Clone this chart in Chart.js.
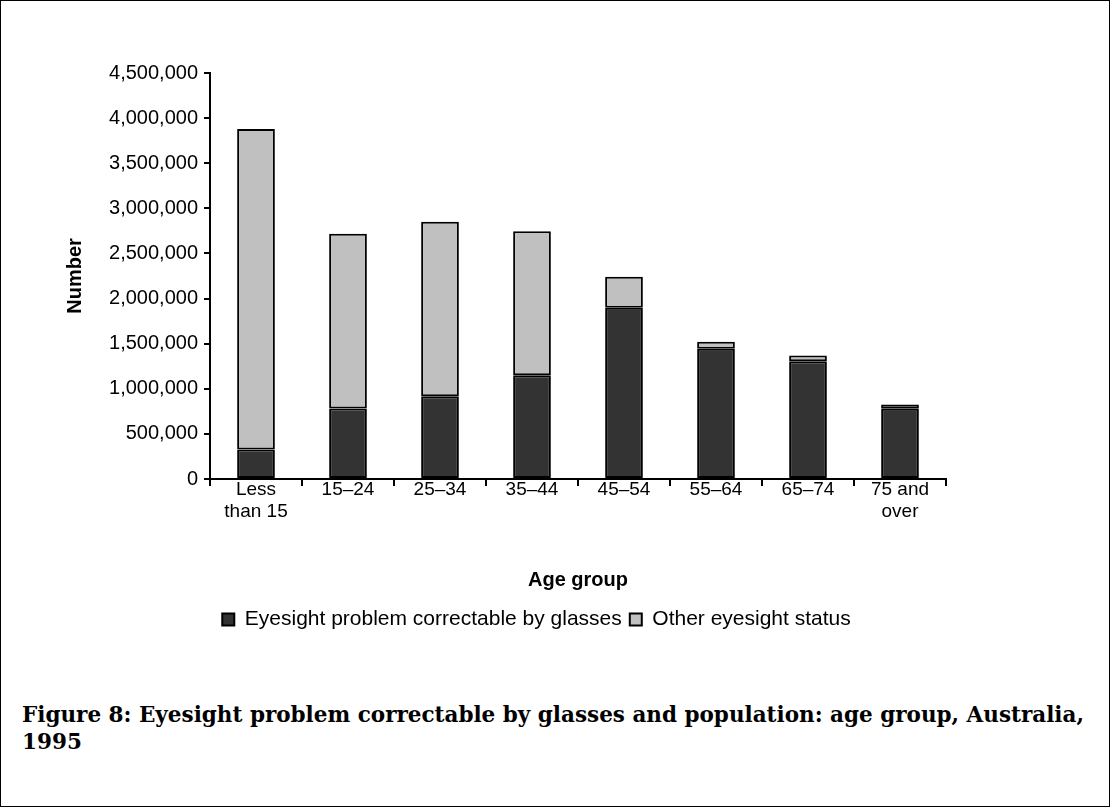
<!DOCTYPE html>
<html>
<head>
<meta charset="utf-8">
<script src="https://cdn.jsdelivr.net/npm/chart.js@4.4.1/dist/chart.umd.min.js"></script>
<style>
  html, body { margin: 0; padding: 0; background: #fff; }
  #page { position: relative; width: 1110px; height: 807px; overflow: hidden; }
  #frame { position: absolute; left: 0; top: 0; width: 1110px; height: 807px; box-sizing: border-box; border: 1px solid #000; pointer-events: none; }
  #chart { position: absolute; left: 0; top: 0; }
  #caption {
    position: absolute; left: 22px; top: 701px; width: 1080px;
    font-family: "DejaVu Serif", "Liberation Serif", serif; font-weight: bold;
    font-size: 21.5px; line-height: 27px; color: #000; white-space: nowrap;
  }
</style>
</head>
<body>
<div id="page">
  <canvas id="chart" width="1110" height="660"></canvas>
  <div id="caption">Figure 8: Eyesight problem correctable by glasses and population: age group, Australia,<br>1995</div>
  <div id="frame"></div>
</div>
<script>
// Age groups (multi-line labels where the source wraps them)
const ageGroups = [['Less', 'than 15'], '15–24', '25–34', '35–44', '45–54', '55–64', '65–74', ['75 and', 'over']];

// Persons with an eyesight problem correctable by glasses
const correctableByGlasses = [327000, 781000, 918000, 1150000, 1898000, 1443000, 1306000, 778000];

// Remainder of the population in each age group
const otherStatus = [3552000, 1937000, 1933000, 1597000, 343000, 78000, 63000, 48000];

// Value axis
const yMin = 0;
const yMax = 4500000;
const yStep = 500000;

const seriesNames = ['Eyesight problem correctable by glasses', 'Other eyesight status'];

const FONT = '"Liberation Sans", Arial, sans-serif';

new Chart(document.getElementById('chart'), {
  type: 'bar',
  data: {
    labels: ageGroups,
    datasets: [
      {
        label: seriesNames[0],
        data: correctableByGlasses,
        backgroundColor: '#333333',
        borderColor: '#000000',
        borderWidth: 2,
        borderSkipped: false
      },
      {
        label: seriesNames[1],
        data: otherStatus,
        backgroundColor: '#c0c0c0',
        borderColor: '#000000',
        borderWidth: 2,
        borderSkipped: false
      }
    ]
  },
  options: {
    responsive: false,
    animation: false,
    devicePixelRatio: 1,
    datasets: { bar: { categoryPercentage: 1, barPercentage: 0.41 } },
    layout: { padding: { left: 63, right: 100, top: 73, bottom: 20 } },
    plugins: {
      legend: {
        position: 'bottom',
        labels: {
          color: '#000',
          font: { family: FONT, size: 21 },
          boxWidth: 12,
          boxHeight: 12,
          padding: 8
        }
      },
      tooltip: { enabled: false },
      title: { display: false }
    },
    scales: {
      x: {
        stacked: true,
        grid: { display: true, drawOnChartArea: false, drawTicks: true, tickLength: 7, color: '#000', lineWidth: 2, offset: true },
        border: { display: true, color: '#000', width: 2 },
        ticks: { color: '#000', font: { family: FONT, size: 19, lineHeight: 1.16 }, padding: -7, maxRotation: 0, autoSkip: false },
        title: { display: true, text: 'Age group', color: '#000', font: { family: FONT, size: 20, weight: 'bold' }, padding: { top: 0, bottom: 9 } },
        afterFit: (s) => { s.height = 122; }
      },
      y: {
        stacked: true,
        min: yMin,
        max: yMax,
        grid: { display: true, drawOnChartArea: false, drawTicks: true, tickLength: 6, color: '#000', lineWidth: 2 },
        border: { display: true, color: '#000', width: 2 },
        ticks: {
          stepSize: yStep,
          color: '#000',
          font: { family: FONT, size: 20 },
          padding: 6,
          callback: (v) => Number(v).toLocaleString('en-US')
        },
        title: { display: true, text: 'Number', color: '#000', font: { family: FONT, size: 20, weight: 'bold' }, padding: 0 },
        afterFit: (s) => { s.width = 147; }
      },
      // empty spacer on the right so the legend sits centred under the figure
      spacer: {
        type: 'linear',
        axis: 'y',
        position: 'right',
        display: true,
        grid: { display: false },
        border: { display: false },
        ticks: { display: false },
        afterFit: (s) => { s.width = 64; }
      }
    }
  }
});
</script>
</body>
</html>
